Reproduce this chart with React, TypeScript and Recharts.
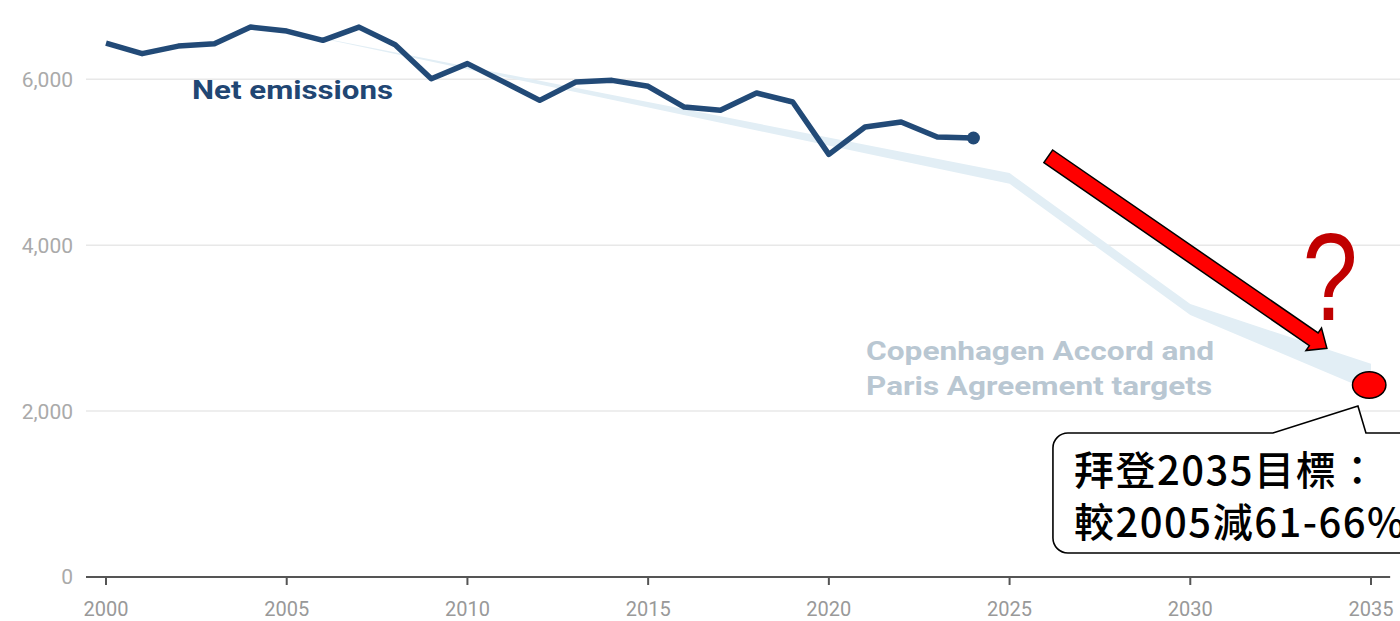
import React from "react";
import {
  ComposedChart,
  Line,
  Area,
  XAxis,
  YAxis,
  CartesianGrid,
  ReferenceDot,
  ReferenceLine,
} from "recharts";

// ---- data ----
const years = [
  2000, 2001, 2002, 2003, 2004, 2005, 2006, 2007, 2008, 2009, 2010, 2011, 2012,
  2013, 2014, 2015, 2016, 2017, 2018, 2019, 2020, 2021, 2022, 2023, 2024,
];
const netEmissions = [
  6437, 6310, 6401, 6430, 6630, 6582, 6470, 6630, 6418, 6008, 6190, 5970, 5747,
  5968, 5988, 5916, 5666, 5627, 5835, 5727, 5096, 5425, 5486, 5305, 5293,
];
const targetYears = [2005, 2025, 2030, 2035];
const targetLow = [6582, 4740, 3160, 2240];
const targetHigh = [6582, 4870, 3290, 2570];
const xTicks = [2000, 2005, 2010, 2015, 2020, 2025, 2030, 2035];
const yTicks = [0, 2000, 4000, 6000];
const gridValues = [2000, 4000, 6000];
const bidenTargetYear = 2035;
const bidenTargetValue = 2315;

const netData = years.map((y, i) => ({ year: y, net: netEmissions[i] }));
const bandData = targetYears.map((y, i) => ({
  year: y,
  range: [targetLow[i], targetHigh[i]],
}));

const X_MIN = 1999.4466;
const X_MAX = 2035.8024;
const AXIS_END = 2035.53;

const NAVY = "#224a77";

const EndDot = (props: any) => {
  const { cx, cy, index } = props;
  if (index !== netData.length - 1) return <g key={`d${index}`} />;
  return <circle key={`d${index}`} cx={cx} cy={cy} r={6.5} fill={NAVY} />;
};

const NetLabel = (props: any) => (
  <text
    x={props.cx}
    y={props.cy}
    fill="#214673"
    fontFamily="Roboto"
    fontWeight="bold"
    fontSize={25}
    textLength={201}
    lengthAdjust="spacingAndGlyphs"
  >
    Net emissions
  </text>
);

const TargetLabel = (props: any) => (
  <g>
    <text
      x={props.cx}
      y={props.cy}
      fill="#b9c7d2"
      fontFamily="Roboto"
      fontWeight="bold"
      fontSize={26}
      textLength={348}
      lengthAdjust="spacingAndGlyphs"
    >
      Copenhagen Accord and
    </text>
    <text
      x={props.cx}
      y={props.cy + 35}
      fill="#b9c7d2"
      fontFamily="Roboto"
      fontWeight="bold"
      fontSize={26}
      textLength={346}
      lengthAdjust="spacingAndGlyphs"
    >
      Paris Agreement targets
    </text>
  </g>
);

const Arrow = (props: any) => {
  const { x1, y1, x2, y2 } = props;
  const dx = x2 - x1;
  const dy = y2 - y1;
  const len = Math.sqrt(dx * dx + dy * dy);
  const ux = dx / len;
  const uy = dy / len;
  const nx = -uy;
  const ny = ux;
  const w = 7.7;
  const hw = 13.7;
  const hl = 16;
  const bx = x2 - ux * hl;
  const by = y2 - uy * hl;
  const pts = [
    [x1 + nx * w, y1 + ny * w],
    [bx + nx * w, by + ny * w],
    [bx + nx * hw, by + ny * hw],
    [x2, y2],
    [bx - nx * hw, by - ny * hw],
    [bx - nx * w, by - ny * w],
    [x1 - nx * w, y1 - ny * w],
  ]
    .map((p) => `${p[0]},${p[1]}`)
    .join(" ");
  return (
    <polygon
      points={pts}
      fill="#ff0000"
      stroke="#000"
      strokeWidth={1.5}
      strokeLinejoin="miter"
    />
  );
};

const QuestionMark = (props: any) => (
  <text
    x={0}
    y={0}
    transform={`translate(${props.cx},${props.cy}) scale(0.8,1)`}
    fill="#c00000"
    fontFamily="Liberation Sans"
    fontSize={124}
    textAnchor="middle"
  >
    ?
  </text>
);

const TargetDot = (props: any) => (
  <ellipse
    cx={props.cx}
    cy={props.cy}
    rx={16.7}
    ry={13.3}
    fill="#ff0000"
    stroke="#000"
    strokeWidth={1.5}
  />
);

const Callout = (props: any) => {
  const ax = props.cx;
  const ay = props.cy;
  const r = 15;
  const W = 420;
  const H = 120;
  const d = [
    `M ${ax + r} ${ay}`,
    `L ${ax + 220} ${ay}`,
    `L ${ax + 305} ${ay - 27}`,
    `L ${ax + 313} ${ay}`,
    `L ${ax + W} ${ay}`,
    `L ${ax + W} ${ay + H}`,
    `L ${ax + r} ${ay + H}`,
    `A ${r} ${r} 0 0 1 ${ax} ${ay + H - r}`,
    `L ${ax} ${ay + r}`,
    `A ${r} ${r} 0 0 1 ${ax + r} ${ay}`,
    "Z",
  ].join(" ");
  const textProps = {
    fontFamily: "Noto Sans CJK TC",
    fontWeight: 500,
    fontSize: 40,
    letterSpacing: 1.5,
    fill: "#000",
  };
  return (
    <g>
      <path d={d} fill="#fff" stroke="#000" strokeWidth={1.6} />
      <text x={ax + 21} y={ay + 52} {...textProps}>
        拜登2035目標：
      </text>
      <text x={ax + 21} y={ay + 104} {...textProps}>
        較2005減61-66%
      </text>
    </g>
  );
};

export default function App() {
  return (
    <div
      style={{
        position: "absolute",
        left: 0,
        top: 0,
        width: 1400,
        height: 621,
        background: "#fff",
        fontFamily: "Roboto",
      }}
    >
      <ComposedChart
        width={1400}
        height={621}
        margin={{ top: 13, right: 0, bottom: 0, left: 0 }}
      >
        <CartesianGrid
          vertical={false}
          horizontalValues={gridValues}
          stroke="#e8e8e8"
          strokeWidth={1.5}
        />
        <XAxis
          dataKey="year"
          type="number"
          domain={[X_MIN, X_MAX]}
          allowDataOverflow
          ticks={xTicks}
          axisLine={false}
          tickLine={{ stroke: "#555", strokeWidth: 2 }}
          tickSize={8}
          tickMargin={17}
          height={44}
          tick={{ fill: "#999", fontSize: 20 }}
          interval={0}
        />
        <YAxis
          type="number"
          domain={[0, 6800]}
          ticks={yTicks}
          axisLine={false}
          tickLine={false}
          tickSize={0}
          tickMargin={13}
          width={86}
          tick={{ fill: "#aaa", fontSize: 21 }}
          tickFormatter={(v: number) => v.toLocaleString("en-US")}
        />
        <Area
          data={bandData}
          dataKey="range"
          type="linear"
          fill="#e2eef5"
          fillOpacity={1}
          stroke="none"
          isAnimationActive={false}
          activeDot={false}
        />
        <ReferenceLine
          segment={[
            { x: X_MIN, y: 0 },
            { x: AXIS_END, y: 0 },
          ]}
          stroke="#555"
          strokeWidth={2}
          ifOverflow="visible"
        />
        <Line
          data={netData}
          dataKey="net"
          type="linear"
          stroke={NAVY}
          strokeWidth={5.5}
          strokeLinejoin="round"
          dot={EndDot}
          activeDot={false}
          isAnimationActive={false}
        />
        <ReferenceDot x={2002.38} y={5760} ifOverflow="visible" shape={NetLabel} />
        <ReferenceDot x={2021.03} y={2616} ifOverflow="visible" shape={TargetLabel} />
        <ReferenceLine
          segment={[
            { x: 2026.07, y: 5072 },
            { x: 2033.78, y: 2757 },
          ]}
          ifOverflow="visible"
          shape={Arrow}
        />
        <ReferenceDot x={2033.87} y={3099} ifOverflow="visible" shape={QuestionMark} />
        <ReferenceDot x={2026.2} y={1736} ifOverflow="visible" shape={Callout} />
        <ReferenceDot
          x={bidenTargetYear - 0.05}
          y={bidenTargetValue}
          ifOverflow="visible"
          shape={TargetDot}
        />
      </ComposedChart>
    </div>
  );
}
